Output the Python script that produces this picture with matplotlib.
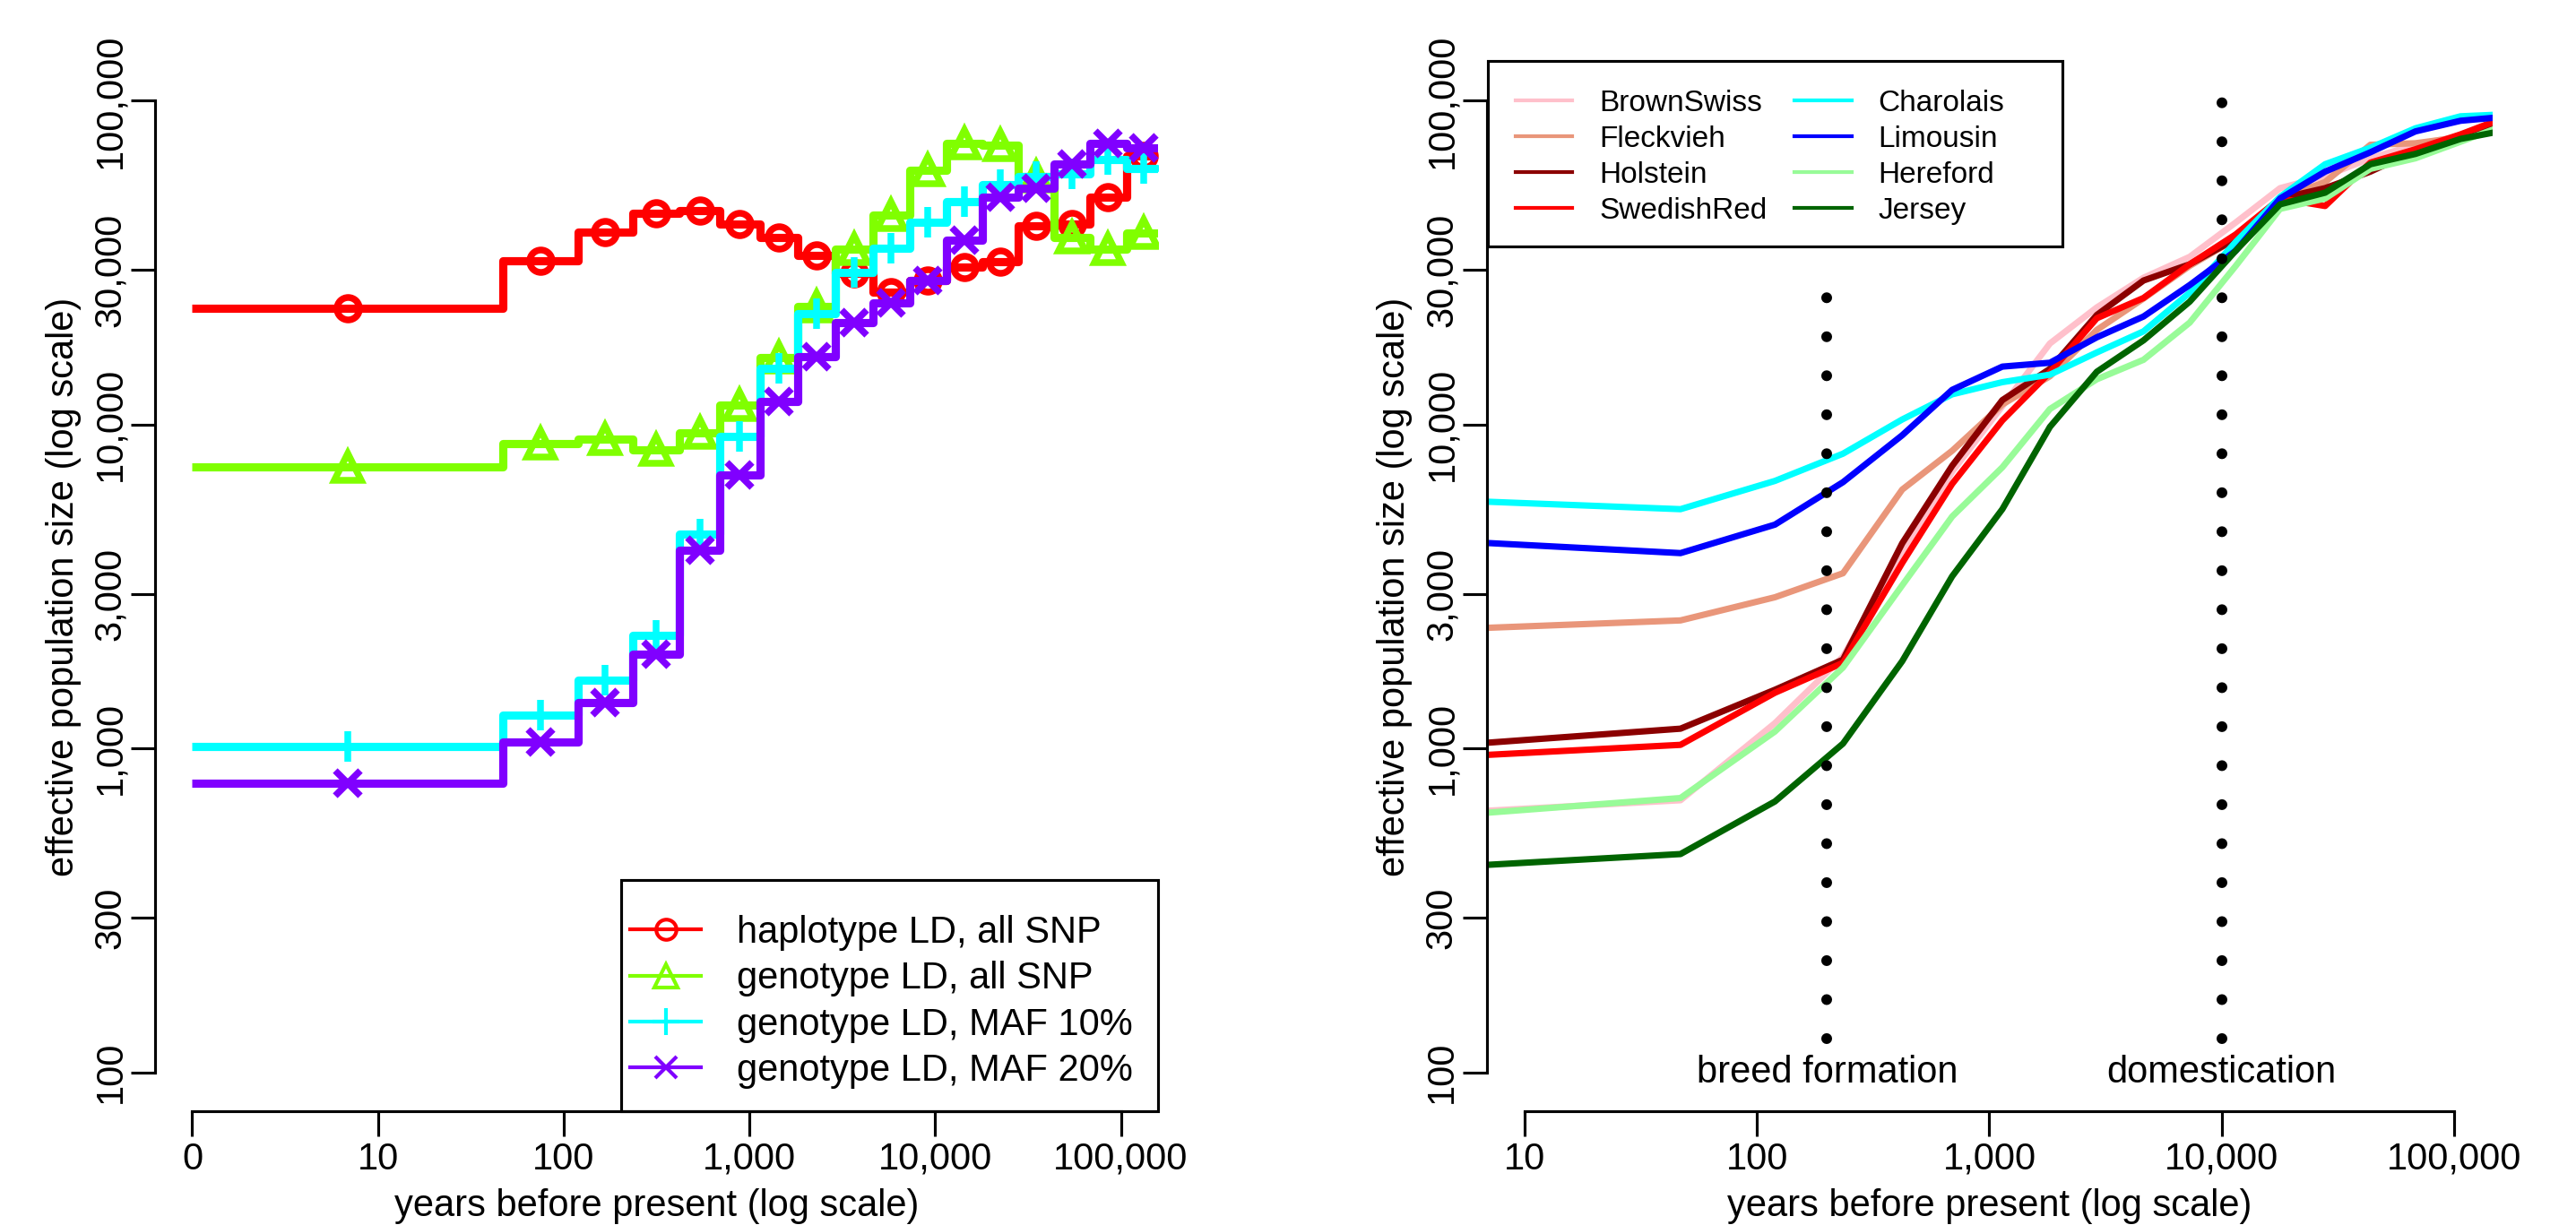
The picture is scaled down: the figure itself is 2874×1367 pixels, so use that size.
import numpy as np
import matplotlib
matplotlib.use('Agg')
import matplotlib.pyplot as plt
from matplotlib.lines import Line2D
from matplotlib.patches import Rectangle

plt.rcParams['font.family'] = ['Liberation Sans', 'DejaVu Sans']
plt.rcParams['font.size'] = 10

# ---------------- data: left panel (step functions) ----------------
# bin edges in years before present (1 is shown as "0")
left_edges = [1, 46.8, 119.4, 234.4, 421.7, 691.8, 1138, 1824, 2904, 4613,
              7295, 11510, 17865, 27925, 43750, 68390, 106900, 166000]
hap_all = [22850, 32100, 39400, 45000, 45700, 41600, 37800, 33300, 29300,
           25600, 27800, 30600, 31900, 41200, 41600, 50300, 67700]
geno_all = [7400, 8730, 9020, 8370, 9450, 11500, 16100, 23200, 34800,
            44400, 61000, 73600, 73000, 58400, 37800, 34800, 39000]
geno_maf10 = [1016, 1270, 1625, 2240, 4600, 9190, 14900, 22000, 29500,
              35100, 42100, 48800, 55000, 58200, 59600, 65900, 61800]
geno_maf20 = [781, 1047, 1383, 1958, 4090, 7000, 11800, 16200, 20600,
              23700, 27800, 37000, 50300, 53600, 63700, 73900, 71600]
left_labels = ['haplotype LD, all SNP', 'genotype LD, all SNP',
               'genotype LD, MAF 10%', 'genotype LD, MAF 20%']
left_colors = ['#FF0000', '#80FF00', '#00FFFF', '#8000FF']
left_markers = ['o', '^', '+', 'x']

# ---------------- data: right panel (breeds) ----------------
years = [6.84, 46.8, 119.4, 234.4, 421.7, 691.8, 1138, 1824, 2904, 4613,
         7295, 11510, 17865, 27925, 43750, 68390, 106900, 146600]
brown_swiss = [642, 692, 1197, 1920, 4030, 7150, 11400, 17800, 23000, 28400,
               32960, 42070, 53700, 58500, 66400, 73100, 77900, 84900]
fleckvieh = [2357, 2485, 2930, 3475, 6300, 8300, 11540, 14100, 19600, 24500,
             30900, 37420, 49900, 56100, 73100, 73900, 77100, 84900]
holstein = [1041, 1151, 1518, 1880, 4300, 7460, 11900, 14860, 21800, 27850,
            31260, 37420, 49900, 53700, 60400, 70100, 77100, 84900]
swedish_red = [955, 1026, 1486, 1838, 3740, 6560, 10300, 14500, 21300, 24600,
               31260, 38650, 49900, 47300, 64400, 70800, 78700, 85800]
charolais = [5780, 5480, 6700, 8130, 10370, 12400, 13520, 14260, 16700, 19400,
             25540, 36640, 50500, 63660, 71600, 82200, 89500, 90400]
limousin = [4310, 4010, 4910, 6640, 9270, 12800, 15100, 15520, 18600, 21560,
            26970, 34420, 49900, 60400, 69300, 80400, 86700, 88500]
hereford = [633, 703, 1128, 1778, 3190, 5200, 7380, 11170, 13800, 15850,
            20650, 30900, 46350, 49900, 61600, 66400, 74700, 81300]
jersey = [437, 472, 686, 1035, 1860, 3400, 5480, 9840, 14560, 18200,
          23970, 34420, 47860, 52000, 63660, 68500, 76200, 79600]
breeds = ['BrownSwiss', 'Fleckvieh', 'Holstein', 'SwedishRed',
          'Charolais', 'Limousin', 'Hereford', 'Jersey']
breed_colors = ['#FFC0CB', '#E9967A', '#8B0000', '#FF0000',
                '#00FFFF', '#0000FF', '#98FB98', '#006400']

events = [200, 10000]
event_top = [25000, 100000]
event_bottom = 127
event_labels = ['breed formation', 'domestication']

x_ticks = [1, 10, 100, 1000, 10000, 100000]
x_ticklabels = ['0', '10', '100', '1,000', '10,000', '100,000']
y_ticks = [100, 300, 1000, 3000, 10000, 30000, 100000]
y_ticklabels = ['100', '300', '1,000', '3,000', '10,000', '30,000', '100,000']

# ---------------- figure ----------------
W, H = 2874, 1367
fig = plt.figure(figsize=(W / 300, H / 300), dpi=300)
top_px, bot_px = 69, 1240
L_x0, L_x1 = 173, 1292
R_x0, R_x1 = 1658.5, 2780.7
axL = fig.add_axes([L_x0 / W, 1 - bot_px / H, (L_x1 - L_x0) / W, (bot_px - top_px) / H])
axR = fig.add_axes([R_x0 / W, 1 - bot_px / H, (R_x1 - R_x0) / W, (bot_px - top_px) / H])


def fx(px, x0, x1):
    return (px - x0) / (x1 - x0)


def fy(py):
    return 1 - (py - top_px) / (bot_px - top_px)


ylim = (10 ** 1.88, 10 ** 5.12)


def style_axes(ax, xt, xtl, xbounds):
    ax.set_xscale('log')
    ax.set_yscale('log')
    ax.set_ylim(*ylim)
    for s in ['top', 'right']:
        ax.spines[s].set_visible(False)
    ax.spines['left'].set_bounds(100, 100000)
    ax.spines['bottom'].set_bounds(*xbounds)
    for s in ['left', 'bottom']:
        ax.spines[s].set_linewidth(0.75)
    ax.set_xticks(xt)
    ax.set_xticklabels(xtl)
    ax.set_yticks(y_ticks)
    ax.set_yticklabels(y_ticklabels, rotation=90, va='center')
    ax.minorticks_off()
    ax.tick_params(axis='both', direction='out', length=6.6, width=0.75,
                   labelsize=10, color='black')
    ax.tick_params(axis='x', pad=1.5)
    ax.tick_params(axis='y', pad=0.5)
    ax.set_xlabel('years before present (log scale)', labelpad=3)
    ax.set_ylabel('effective population size (log scale)', labelpad=3)


# ---- left panel ----
edges = np.array(left_edges, dtype=float)
mids = np.sqrt(edges[:-1] * edges[1:])
series = [hap_all, geno_all, geno_maf10, geno_maf20]
msizes = [6, 7, 8, 6.5]
for vals, col, mk, ms in zip(series, left_colors, left_markers, msizes):
    v = np.array(vals, dtype=float)
    axL.plot(edges, np.append(v, v[-1]), drawstyle='steps-post', color=col,
             lw=2.2, solid_capstyle='butt')
    axL.plot(mids, v, linestyle='none', marker=mk, ms=ms, mfc='none',
             mec=col, mew=1.8)
axL.set_xlim(10 ** -0.2, 10 ** 5.2)
style_axes(axL, x_ticks, x_ticklabels, (1, 100000))

handlesL = [Line2D([], [], color=c, lw=1, marker=m, ms=s * 0.9, mfc='none', mec=c, mew=1)
            for c, m, s in zip(left_colors, left_markers, msizes)]
legL = axL.legend(handlesL, left_labels, loc='upper left',
                  bbox_to_anchor=(fx(703, L_x0, L_x1), fy(1021)),
                  borderaxespad=0, borderpad=0, frameon=False,
                  handlelength=1.9, handletextpad=0.95, labelspacing=0.27,
                  fontsize=10)
axL.add_patch(Rectangle((fx(693, L_x0, L_x1), 0.0), 1 - fx(693, L_x0, L_x1),
                        fy(981.7), transform=axL.transAxes, fill=False,
                        edgecolor='black', lw=0.75, clip_on=False, zorder=5))

# ---- right panel ----
rseries = [brown_swiss, fleckvieh, holstein, swedish_red,
           charolais, limousin, hereford, jersey]
for vals, col in zip(rseries, breed_colors):
    axR.plot(years, vals, color=col, lw=1.7)
for ev, top in zip(events, event_top):
    axR.plot([ev, ev], [event_bottom, top], color='black', lw=2.9,
             linestyle=(0, (0.001, 3.6)), dash_capstyle='round')
for ev, lab in zip(events, event_labels):
    axR.text(ev, 100, lab, ha='center', va='center', fontsize=10)
axR.set_xlim(years[0], years[-1])
style_axes(axR, x_ticks[1:], x_ticklabels[1:], (10, 100000))

handlesR = [Line2D([], [], color=c, lw=1) for c in breed_colors]
legR = axR.legend(handlesR, breeds, loc='upper left', ncol=2,
                  bbox_to_anchor=(fx(1691, R_x0, R_x1), fy(100)),
                  borderaxespad=0, borderpad=0, frameon=False,
                  handlelength=1.9, handletextpad=0.9, columnspacing=0.92,
                  labelspacing=0.27, fontsize=8)
axR.add_patch(Rectangle((fx(1660, R_x0, R_x1), fy(275)),
                        fx(2300.6, R_x0, R_x1) - fx(1660, R_x0, R_x1),
                        fy(68.3) - fy(275), transform=axR.transAxes, fill=False,
                        edgecolor='black', lw=0.75, clip_on=False, zorder=5))

fig.savefig('out.png', dpi=300)
